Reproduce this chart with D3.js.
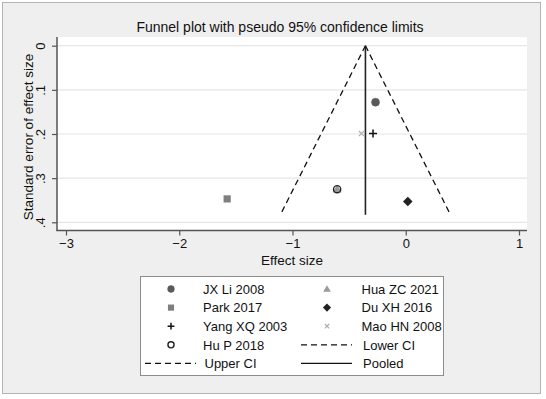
<!DOCTYPE html>
<html>
<head>
<meta charset="utf-8">
<script src="https://cdn.jsdelivr.net/npm/d3@7"></script>
<style>
  body { margin: 0; background: #fff; }
  text { font-family: "Liberation Sans", Arial, sans-serif; fill: #111; }
</style>
</head>
<body>
<div id="chart"></div>
<script>
// study data
const studies = ["JX Li 2008", "Hua ZC 2021", "Park 2017", "Du XH 2016", "Yang XQ 2003", "Mao HN 2008", "Hu P 2018"];
const effects = [-0.267, -0.606, -1.577, 0.018, -0.289, -0.391, -0.606];
const ses     = [0.128, 0.325, 0.347, 0.353, 0.199, 0.199, 0.325];

// pooled estimate and pseudo 95% limits
const pooled = -0.356;
const lowerCI = [[-0.356, 0], [-1.107, 0.383]];
const upperCI = [[-0.356, 0], [0.395, 0.383]];
const pooledLine = [[-0.356, 0], [-0.356, 0.383]];

const xTicks = [-3, -2, -1, 0, 1];
const yTicks = [0, 0.1, 0.2, 0.3, 0.4];
const yTickLabels = ["0", ".1", ".2", ".3", ".4"];

const width = 546, height = 399;

const svg = d3.select("#chart")
    .append("svg")
    .attr("width", width)
    .attr("height", height);

// graph region
svg.append("rect")
    .attr("x", 2.5).attr("y", 2.5)
    .attr("width", 538).attr("height", 391)
    .attr("fill", "#efefef")
    .attr("stroke", "#b4b4b4");

// plot region
svg.append("rect")
    .attr("x", 57).attr("y", 37)
    .attr("width", 470).attr("height", 193)
    .attr("fill", "#fff");

let x = d3.scaleLinear().domain([-3, 1]).range([66, 519]);
let y = d3.scaleLinear().domain([0, 0.4]).range([45.7, 222.3]);

// grid
svg.append("g")
    .selectAll("line")
    .data(yTicks)
    .join("line")
    .attr("x1", 57).attr("x2", 527)
    .attr("y1", d => y(d)).attr("y2", d => y(d))
    .attr("stroke", "#e6e6e6")
    .attr("stroke-width", 1.2);

// axes
const yAxis = svg.append("g")
    .attr("transform", "translate(57,0)")
    .call(d3.axisLeft(y).tickValues(yTicks).tickSize(5).tickSizeOuter(0).tickFormat((d, i) => yTickLabels[i]));
yAxis.select(".domain").attr("d", "M0,37V230.5").attr("stroke", "#555").attr("stroke-width", 1.5);
yAxis.selectAll(".tick line").attr("stroke", "#555").attr("stroke-width", 1.2);
yAxis.selectAll(".tick text")
    .attr("font-size", 13)
    .attr("x", null).attr("dy", null)
    .attr("text-anchor", "middle")
    .attr("transform", "translate(-12,0) rotate(-90)")
    .attr("font-family", "Liberation Sans, Arial, sans-serif");

const xAxis = svg.append("g")
    .attr("transform", "translate(0,230.5)")
    .call(d3.axisBottom(x).tickValues(xTicks).tickSize(5).tickSizeOuter(0).tickFormat(d3.format("d")));
xAxis.select(".domain").attr("d", "M56.3,0H527").attr("stroke", "#555").attr("stroke-width", 1.5);
xAxis.selectAll(".tick line").attr("stroke", "#555").attr("stroke-width", 1.2);
xAxis.selectAll(".tick text")
    .attr("font-size", 13)
    .attr("y", 8).attr("dy", "0.71em")
    .attr("font-family", "Liberation Sans, Arial, sans-serif");

// titles
svg.append("text")
    .attr("x", 280).attr("y", 32)
    .attr("text-anchor", "middle")
    .attr("font-size", 14)
    .text("Funnel plot with pseudo 95% confidence limits");

svg.append("text")
    .attr("x", 292).attr("y", 265)
    .attr("text-anchor", "middle")
    .attr("font-size", 13.5)
    .text("Effect size");

svg.append("text")
    .attr("transform", "translate(33,137) rotate(-90)")
    .attr("text-anchor", "middle")
    .attr("font-size", 13.5)
    .text("Standard error of effect size");

// funnel lines
let line = d3.line()
    .x(d => x(d[0]))
    .y(d => y(d[1]));

[lowerCI, upperCI].forEach(ci => {
    svg.append("path")
        .datum(ci)
        .attr("d", line)
        .attr("fill", "none")
        .attr("stroke", "#111")
        .attr("stroke-width", 1.3)
        .attr("stroke-dasharray", "6,4");
});

svg.append("path")
    .datum(pooledLine)
    .attr("d", line)
    .attr("fill", "none")
    .attr("stroke", "#222")
    .attr("stroke-width", 1.6);

// marker styles per study
const markers = [
    { type: "circle", fill: "#5a5a5a", stroke: "#5a5a5a", size: 4 },
    { type: "triangle", fill: "#9a9a9a", stroke: "#9a9a9a", size: 4.5 },
    { type: "square", fill: "#7f7f7f", stroke: "#7f7f7f", size: 3.6 },
    { type: "diamond", fill: "#222", stroke: "#222", size: 4.8 },
    { type: "plus", fill: "none", stroke: "#111", size: 4 },
    { type: "x", fill: "none", stroke: "#b0b0b0", size: 2.6 },
    { type: "hollow", fill: "none", stroke: "#222", size: 3.6 }
];

function drawMarker(g, m, cx, cy, scale) {
    const s = m.size * scale;
    if (m.type === "circle" || m.type === "hollow") {
        g.append("circle").attr("cx", cx).attr("cy", cy).attr("r", s)
            .attr("fill", m.fill).attr("stroke", m.stroke).attr("stroke-width", m.type === "hollow" ? 1.4 : 0.5);
    } else if (m.type === "square") {
        g.append("rect").attr("x", cx - s).attr("y", cy - s).attr("width", 2 * s).attr("height", 2 * s)
            .attr("fill", m.fill);
    } else if (m.type === "diamond") {
        g.append("path").attr("d", `M${cx},${cy - s}L${cx + s},${cy}L${cx},${cy + s}L${cx - s},${cy}Z`)
            .attr("fill", m.fill);
    } else if (m.type === "triangle") {
        g.append("path").attr("d", `M${cx},${cy - s}L${cx + s},${cy + s * 0.75}L${cx - s},${cy + s * 0.75}Z`)
            .attr("fill", m.fill);
    } else if (m.type === "plus") {
        g.append("path").attr("d", `M${cx - s},${cy}H${cx + s}M${cx},${cy - s}V${cy + s}`)
            .attr("stroke", m.stroke).attr("stroke-width", 1.5);
    } else if (m.type === "x") {
        g.append("path").attr("d", `M${cx - s},${cy - s}L${cx + s},${cy + s}M${cx - s},${cy + s}L${cx + s},${cy - s}`)
            .attr("stroke", m.stroke).attr("stroke-width", 1.2);
    }
}

const pts = svg.append("g");
studies.forEach((s, i) => {
    drawMarker(pts, markers[i], x(effects[i]), y(ses[i]), 1);
});

// legend
const legend = svg.append("g");
legend.append("rect")
    .attr("x", 140.5).attr("y", 276.5)
    .attr("width", 303).attr("height", 99)
    .attr("fill", "#fff")
    .attr("stroke", "#8c8c8c");

const legendItems = studies.map((s, i) => ({ label: s, marker: markers[i] }))
    .concat([
        { label: "Lower CI", dash: "6,4" },
        { label: "Upper CI", dash: "6,4" },
        { label: "Pooled", dash: null }
    ]);

const colSym = [171, 327], colText = [203, 361.5], rowY0 = 289, rowStep = 18.6;

legendItems.forEach((d, i) => {
    const col = i % 2, row = Math.floor(i / 2);
    const cy = rowY0 + row * rowStep;
    if (d.marker) {
        drawMarker(legend, d.marker, colSym[col], cy, 0.85);
    } else {
        legend.append("line")
            .attr("x1", colSym[col] - 26).attr("x2", colSym[col] + 25)
            .attr("y1", cy).attr("y2", cy)
            .attr("stroke", "#111")
            .attr("stroke-width", 1.3)
            .attr("stroke-dasharray", d.dash);
    }
    legend.append("text")
        .attr("x", colText[col] + (d.marker ? 0 : 1.5))
        .attr("y", cy + 4.8)
        .attr("font-size", 13)
        .text(d.label);
});
</script>
</body>
</html>
